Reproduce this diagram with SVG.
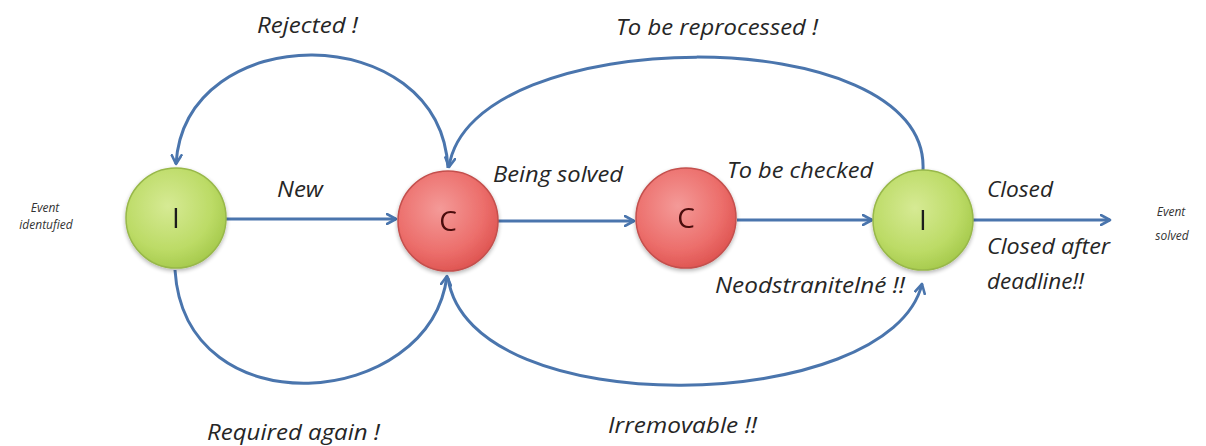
<svg xmlns="http://www.w3.org/2000/svg" width="1206" height="446" viewBox="0 0 1206 446">
<style>
.lbl{font-family:"Open Sans",Lato,"Liberation Sans",sans-serif;font-style:italic;font-size:21px;fill:#262626}
.sm{font-family:"Open Sans",Lato,"Liberation Sans",sans-serif;font-style:italic;font-size:12px;fill:#333}
.node-txt{font-family:"Open Sans",Lato,"Liberation Sans",sans-serif;font-size:28px;text-anchor:middle}
.edge{fill:none;stroke:#4a75ad;stroke-width:3;marker-end:url(#arr)}
</style>
<defs>
<radialGradient id="gGreen" cx="0.42" cy="0.38" r="0.68">
<stop offset="0" stop-color="#d6ea94"/>
<stop offset="0.65" stop-color="#bcdb66"/>
<stop offset="1" stop-color="#a2c748"/>
</radialGradient>
<radialGradient id="gRed" cx="0.42" cy="0.38" r="0.68">
<stop offset="0" stop-color="#f49a98"/>
<stop offset="0.65" stop-color="#ec6e6b"/>
<stop offset="1" stop-color="#dc504d"/>
</radialGradient>
<marker id="arr" viewBox="0 0 12 12" refX="10" refY="6" markerWidth="12" markerHeight="12" markerUnits="userSpaceOnUse" orient="auto">
<path d="M1,1 L10,6 L1,11" fill="none" stroke="#4a75ad" stroke-width="2.6" stroke-linecap="round" stroke-linejoin="round"/>
</marker>
<filter id="sh" x="-20%" y="-20%" width="140%" height="140%">
<feGaussianBlur in="SourceAlpha" stdDeviation="2"/>
<feOffset dx="0" dy="2" result="b"/>
<feComponentTransfer><feFuncA type="linear" slope="0.3"/></feComponentTransfer>
<feMerge><feMergeNode/><feMergeNode in="SourceGraphic"/></feMerge>
</filter>
</defs>
<rect width="1206" height="446" fill="#ffffff"/>

<g id="connectors">
<path class="edge" d="M226,219 L396,219"/>
<path class="edge" d="M498,221 L634,221"/>
<path class="edge" d="M737,220 L872,220"/>
<path class="edge" d="M973,220 L1110,220"/>
<path class="edge" d="M448,168 C440,18 185,18 176,164"/>
<path class="edge" d="M923,170 C930,18 470,22 449,167"/>
<path class="edge" d="M175,270 C185,430 430,410 447,276"/>
<path class="edge" d="M448,278 C470,425 890,415 922,284"/>
</g>

<g id="node-I1" filter="url(#sh)">
<circle cx="176" cy="218" r="50" fill="url(#gGreen)" stroke="#98b84a" stroke-width="1.5"/>
<text class="node-txt" x="176" y="228" fill="#1a1a1a">I</text>
</g>
<g id="node-C1" filter="url(#sh)">
<circle cx="448" cy="221" r="50" fill="url(#gRed)" stroke="#c4504d" stroke-width="1.5"/>
<text class="node-txt" x="448" y="231" fill="#4a0a0a">C</text>
</g>
<g id="node-C2" filter="url(#sh)">
<circle cx="686" cy="218" r="50" fill="url(#gRed)" stroke="#c4504d" stroke-width="1.5"/>
<text class="node-txt" x="686" y="228" fill="#4a0a0a">C</text>
</g>
<g id="node-I2" filter="url(#sh)">
<circle cx="923" cy="220" r="50" fill="url(#gGreen)" stroke="#98b84a" stroke-width="1.5"/>
<text class="node-txt" x="923" y="230" fill="#1a1a1a">I</text>
</g>

<g id="labels">
<text class="lbl" x="257" y="33" textLength="101" lengthAdjust="spacingAndGlyphs">Rejected !</text>
<text class="lbl" x="616" y="35" textLength="202" lengthAdjust="spacingAndGlyphs">To be reprocessed !</text>
<text class="lbl" x="277" y="197" textLength="46" lengthAdjust="spacingAndGlyphs">New</text>
<text class="lbl" x="493" y="182" textLength="130" lengthAdjust="spacingAndGlyphs">Being solved</text>
<text class="lbl" x="727" y="178" textLength="146" lengthAdjust="spacingAndGlyphs">To be checked</text>
<text class="lbl" x="987" y="197" textLength="66" lengthAdjust="spacingAndGlyphs">Closed</text>
<text class="lbl" x="987" y="254" textLength="123" lengthAdjust="spacingAndGlyphs">Closed after</text>
<text class="lbl" x="987" y="289" textLength="97" lengthAdjust="spacingAndGlyphs">deadline!!</text>
<text class="lbl" x="715" y="293" textLength="190" lengthAdjust="spacingAndGlyphs">Neodstranitelné !!</text>
<text class="lbl" x="608" y="433" textLength="149" lengthAdjust="spacingAndGlyphs">Irremovable !!</text>
<text class="lbl" x="207" y="440" textLength="173" lengthAdjust="spacingAndGlyphs">Required again !</text>
<text class="sm" x="45" y="212" text-anchor="middle">Event</text>
<text class="sm" x="46" y="229" text-anchor="middle">identufied</text>
<text class="sm" x="1171" y="216" text-anchor="middle">Event</text>
<text class="sm" x="1172" y="240" text-anchor="middle">solved</text>
</g>
</svg>
